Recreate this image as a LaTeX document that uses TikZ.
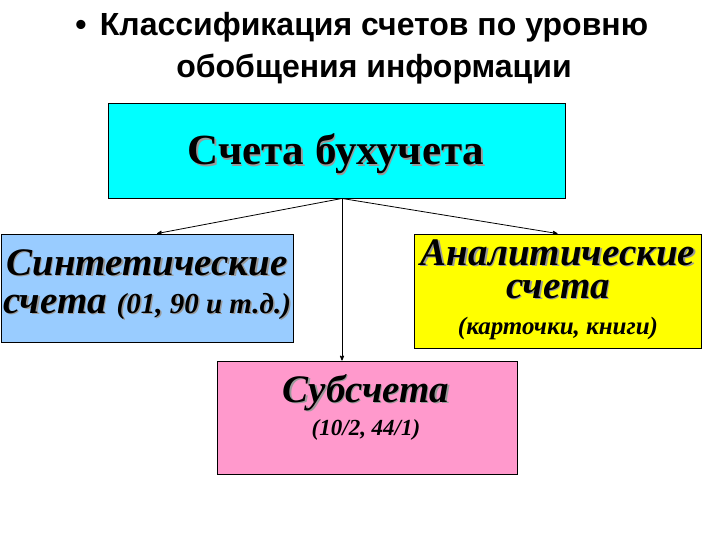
\documentclass[tikz,border=0pt]{standalone}
\usepackage{fontspec}
\setmainfont{Liberation Serif}
\newfontfamily\titlefont{Liberation Sans Bold}
\usetikzlibrary{positioning, arrows, calc}
\definecolor{topfill}{RGB}{0,255,255}
\definecolor{synfill}{RGB}{153,204,255}
\definecolor{anfill}{RGB}{255,255,0}
\definecolor{subfill}{RGB}{255,153,204}
% text with a grey drop shadow
\newcommand{\shd}[1]{\rlap{\kern1.5pt\raisebox{-1.5pt}{\color{black!40}#1}}#1}

\begin{document}
\begin{tikzpicture}[x=1pt,y=-1pt,>=stealth',
        box/.style={rectangle,draw,line width=0.9pt,inner sep=0pt},
        big/.style={font=\bfseries\itshape\fontsize{39}{#1}\selectfont, align=center, anchor=base},
        big/.default=32]
        \useasboundingbox (0,0) rectangle (720,540);

        % title (base anchor = last line)
        \node at (81,36) [anchor=base, font=\titlefont\fontsize{32}{42}\selectfont] (bullet) {•};
        \node at (374,78) [anchor=base, align=center, font=\titlefont\fontsize{32}{42}\selectfont] (title)
            {Классификация счетов по уровню\\обобщения информации};

        % boxes
        \node at (336.5,150.5) [box, fill=topfill, minimum width=457, minimum height=95] (top) {};
        \node at (147,288) [box, fill=synfill, minimum width=292, minimum height=108] (syn) {};
        \node at (557.5,291) [box, fill=anfill, minimum width=287, minimum height=114] (an) {};
        \node at (367,417.5) [box, fill=subfill, minimum width=300, minimum height=113] (sub) {};

        % texts
        \node at (336,165) [anchor=base, font=\bfseries\fontsize{43}{44}\selectfont] (top_txt) {\shd{Счета бухучета}};
        \node at (147,313) [big=38] (syn_txt)
            {\shd{Синтетические}\\\shd{счета} {\fontsize{29}{30}\selectfont\shd{(01, 90 и т.д.)}}};
        \node at (558,334) [big=33] (an_txt)
            {\shd{Аналитические}\\\shd{счета}\\[3pt]{\fontsize{25}{30}\selectfont (карточки, книги)}};
        \node at (366,435) [big=33] (sub_txt)
            {\shd{Субсчета}\\{\fontsize{23}{30}\selectfont (10/2, 44/1)}};

        % connectors
        \coordinate (split) at ($(top.south)+(5.5,0)$);
        \draw[->, line width=0.8pt] (split) -- ([xshift=10pt]syn.north);
        \draw[->, line width=0.8pt] (split) -- (an.north);
        \draw[->, line width=0.8pt] (split) -- (split |- sub.north);
\end{tikzpicture}
\end{document}
